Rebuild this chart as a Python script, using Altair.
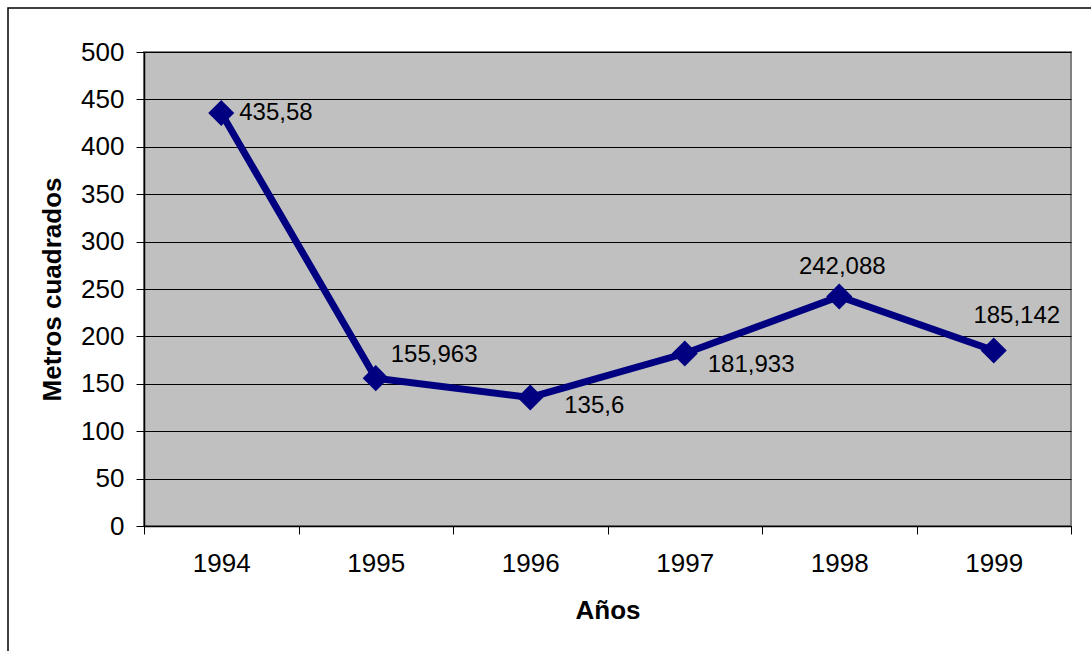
import altair as alt
import pandas as pd

# Superficie anual (metros cuadrados)
years = ["1994", "1995", "1996", "1997", "1998", "1999"]
values = [435.58, 155.963, 135.6, 181.933, 242.088, 185.142]
labels = [str(v).replace(".", ",") for v in values]

df = pd.DataFrame({"year": years, "value": values, "label": labels})

W, H = 927, 474          # plot area
PAD_L, PAD_T = 144, 52
FONT = "Liberation Sans"
NAVY = "#000080"

x = alt.X(
    "year:N",
    title="Años",
    sort=years,
    scale=alt.Scale(paddingInner=0, paddingOuter=0),
    axis=alt.Axis(
        labelAngle=0,
        labelFontSize=26,
        labelFont=FONT,
        labelColor="#000",
        labelPadding=16,
        tickBand="extent",
        tickSize=8,
        tickColor="#000",
        tickWidth=1,
        domainColor="#000",
        domainWidth=1.5,
        grid=False,
        titleFont=FONT,
        titleFontSize=26,
        titleFontWeight="bold",
        titleColor="#000",
        titleY=92,
        titleBaseline="alphabetic",
    ),
)
y = alt.Y(
    "value:Q",
    title="Metros cuadrados",
    scale=alt.Scale(domain=[0, 500], nice=False, zero=True),
    axis=alt.Axis(
        values=list(range(0, 501, 50)),
        labelFontSize=26,
        labelFont=FONT,
        labelColor="#000",
        labelPadding=12,
        tickSize=8,
        tickColor="#000",
        tickWidth=1,
        domainColor="#000",
        domainWidth=1.5,
        grid=True,
        gridColor="#000",
        gridWidth=1,
        gridOpacity=1,
        titleFont=FONT,
        titleFontSize=26,
        titleFontWeight="bold",
        titleColor="#000",
        titleX=-84,
        titleY=H / 2,
        titleAngle=270,
        titleBaseline="alphabetic",
        titleAlign="center",
    ),
)

base = alt.Chart(df)

line = base.mark_line(color=NAVY, strokeWidth=7, strokeJoin="miter").encode(x=x, y=y)
points = base.mark_point(
    shape="diamond", filled=True, color=NAVY, size=680, opacity=1
).encode(x=x, y=y)

# Offsets of each value label from its marker
label_style = {
    "1994": dict(dx=18, dy=0, align="left"),
    "1995": dict(dx=15, dy=-23, align="left"),
    "1996": dict(dx=34, dy=9, align="left"),
    "1997": dict(dx=23, dy=11, align="left"),
    "1998": dict(dx=3, dy=-30, align="center"),
    "1999": dict(dx=23, dy=-34, align="center"),
}
text_layers = [
    base.transform_filter(alt.datum.year == yr)
    .mark_text(baseline="middle", fontSize=24, font=FONT, color="#000", **st)
    .encode(x=x, y=y, text="label:N")
    for yr, st in label_style.items()
]

# Outer chart frame
frame = alt.Chart(pd.DataFrame({"k": [0]})).mark_rect(
    fill=None, stroke="#000", strokeWidth=1.5
).encode(
    x=alt.value(8 - PAD_L),
    x2=alt.value(1100 - PAD_L),
    y=alt.value(8 - PAD_T),
    y2=alt.value(700 - PAD_T),
)

chart = (
    alt.layer(frame, line, points, *text_layers)
    .properties(
        width=W,
        height=H,
        autosize=alt.AutoSizeParams(type="none"),
        padding={"left": PAD_L, "top": PAD_T, "right": 1091 - PAD_L - W, "bottom": 651 - PAD_T - H},
        background="#ffffff",
    )
    .configure_view(fill="#C0C0C0", stroke="#808080", strokeWidth=2)
)

chart.save("out.html", embed_options={"renderer": "svg", "actions": False})
